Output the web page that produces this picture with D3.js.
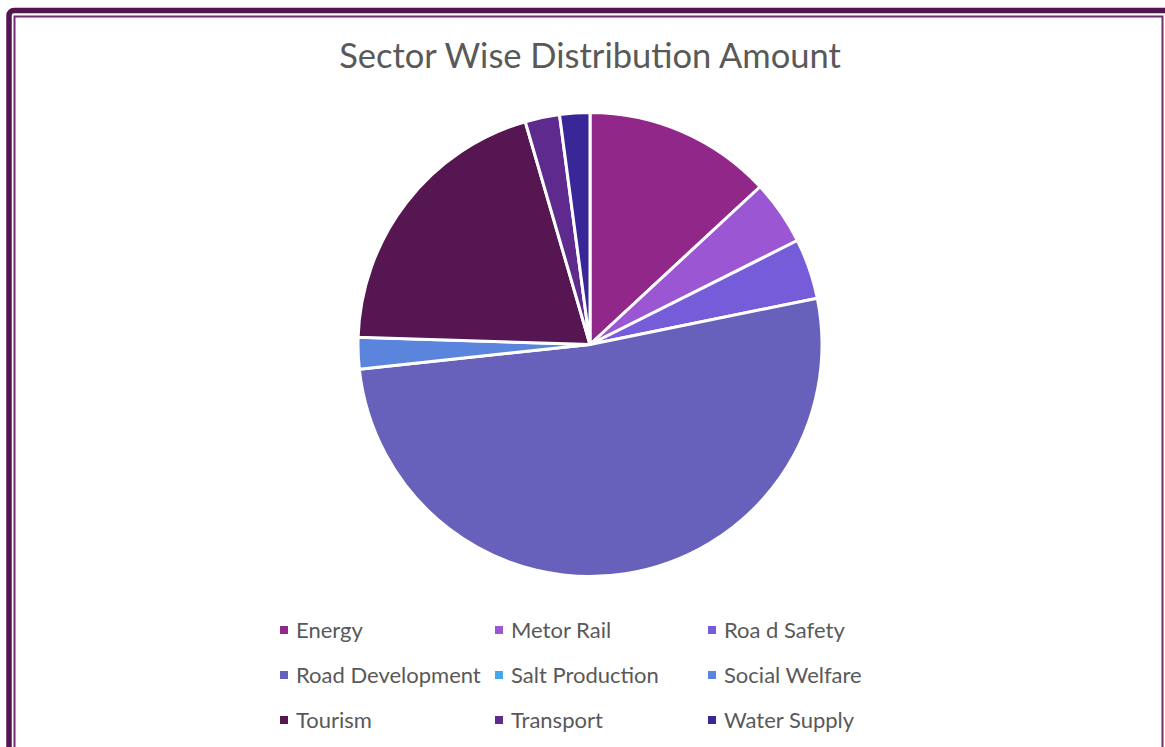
<!DOCTYPE html>
<meta charset="utf-8">
<script src="https://d3js.org/d3.v7.min.js"></script>
<style>
  body { margin: 0; background: #fff; }
</style>
<div id="chart"></div>
<script>
  // data (share of total, %)
  var sectors = ["Energy", "Metor Rail", "Roa d Safety", "Road Development", "Salt Production",
    "Social Welfare", "Tourism", "Transport", "Water Supply"];
  var amounts = [13.1, 4.5, 4.2, 51.5, 0, 2.2, 20.0, 2.4, 2.1];
  var colors = ["#912889", "#9b56d3", "#765cd9", "#6861bb", "#45a6ee", "#5b84dc", "#561652", "#5e2a8e", "#3a2797"];

  var W = 1165, H = 747;

  var svg = d3.select("#chart").append("svg")
    .attr("width", W)
    .attr("height", H);

  // frame
  svg.append("rect")
    .attr("x", 9).attr("y", 10.5)
    .attr("width", W + 20).attr("height", H + 20)
    .attr("rx", 5)
    .attr("fill", "none")
    .attr("stroke", "#521552")
    .attr("stroke-width", 5.5);
  svg.append("rect")
    .attr("x", 14.5).attr("y", 16.5)
    .attr("width", 1148).attr("height", H + 20)
    .attr("fill", "none")
    .attr("stroke", "#6e2f6e")
    .attr("stroke-width", 2);

  // title
  svg.append("text")
    .attr("x", 590)
    .attr("y", 68)
    .attr("text-anchor", "middle")
    .style("font-family", "Lato, 'Open Sans', sans-serif")
    .style("font-size", "34.5px")
    .style("fill", "#595959")
    .text("Sector Wise Distribution Amount");

  // pie
  var cx = 590, cy = 344.5, r = 232;
  var pie = d3.pie().sort(null).value(function(d) { return d; });
  var arc = d3.arc().innerRadius(0).outerRadius(r);
  var color = d3.scaleOrdinal().domain(sectors).range(colors);

  var g = svg.append("g").attr("transform", "translate(" + cx + "," + cy + ")");
  g.selectAll("path")
    .data(pie(amounts))
    .enter().append("path")
    .attr("d", arc)
    .attr("fill", function(d, i) { return color(sectors[i]); })
    .attr("stroke", "#fff")
    .attr("stroke-width", function(d) { return d.value > 0 ? 3 : 0; })
    .attr("stroke-linejoin", "round");

  // legend, 3 columns
  var colX = d3.scaleOrdinal().domain([0, 1, 2]).range([280, 495, 708]);
  var rowY = d3.scaleOrdinal().domain([0, 1, 2]).range([630, 675, 720]);

  var leg = svg.selectAll(".leg")
    .data(sectors)
    .enter().append("g")
    .attr("class", "leg")
    .attr("transform", function(d, i) {
      return "translate(" + colX(i % 3) + "," + rowY(Math.floor(i / 3)) + ")";
    });
  leg.append("rect")
    .attr("x", 0).attr("y", -4)
    .attr("width", 8).attr("height", 8)
    .attr("fill", function(d) { return color(d); });
  leg.append("text")
    .attr("x", 16)
    .attr("y", 7.5)
    .style("font-family", "Lato, 'Open Sans', sans-serif")
    .style("font-size", "22px")
    .style("fill", "#595959")
    .text(function(d) { return d; });
</script>
